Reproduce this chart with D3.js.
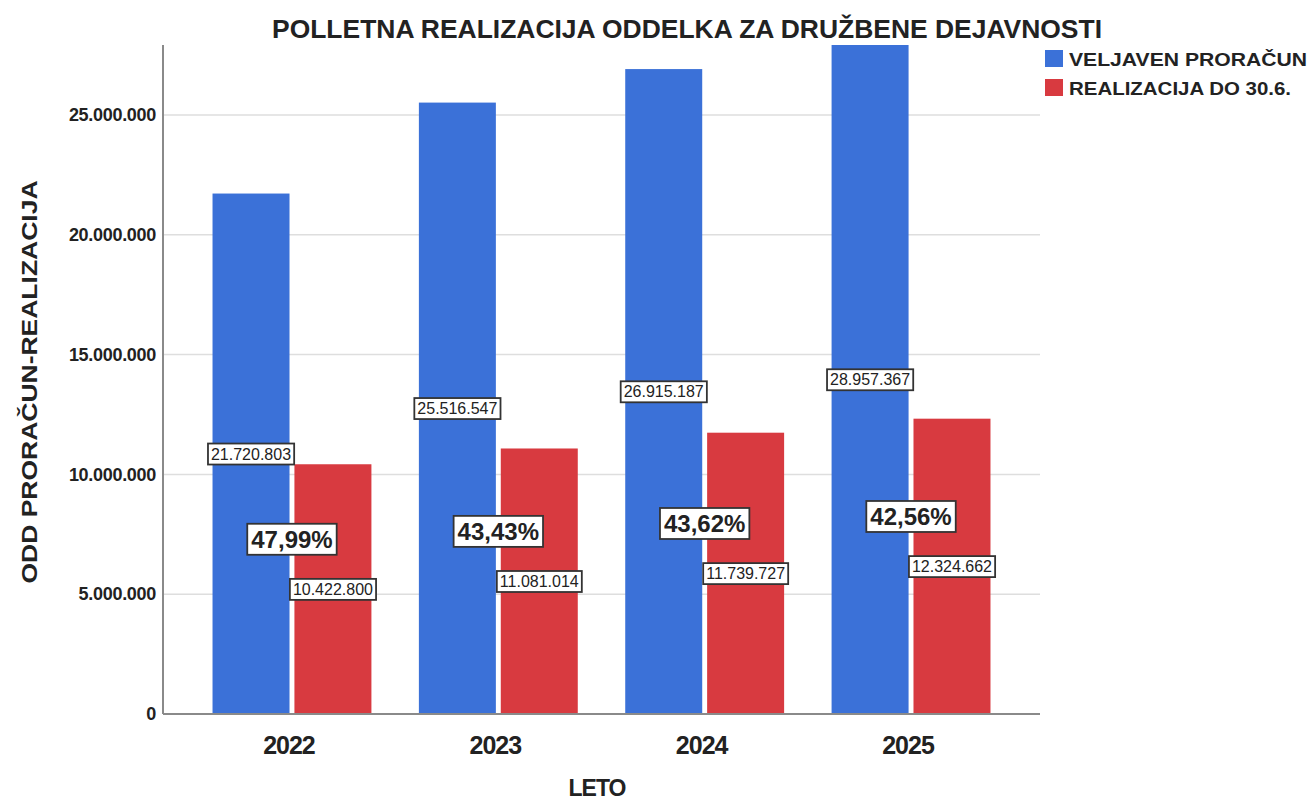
<!DOCTYPE html>
<html>
<head>
<meta charset="utf-8">
<script src="https://cdn.jsdelivr.net/npm/d3@7"></script>
<style>
  body { margin: 0; background: #fff; }
  text { font-family: "Liberation Sans", Arial, sans-serif; }
</style>
</head>
<body>
<svg width="1311" height="802"></svg>
<script>
// data
const years = ["2022", "2023", "2024", "2025"];
const budget = [21720803, 25516547, 26915187, 28957367];
const realized = [10422800, 11081014, 11739727, 12324662];
const percents = ["47,99%", "43,43%", "43,62%", "42,56%"];
const seriesNames = ["VELJAVEN PRORAČUN", "REALIZACIJA DO 30.6."];
const yTicks = [0, 5000000, 10000000, 15000000, 20000000, 25000000];

const colors = ["#3b71d8", "#d83a40"];

const svg = d3.select("svg");
const plotLeft = 163, plotRight = 1040, plotTop = 45, plotBottom = 714;

const fmt = v => d3.format(",")(v).replace(/,/g, ".");

const x = d3.scaleBand()
    .domain(years)
    .range([plotLeft, plotRight])
    .paddingInner(0.23)
    .paddingOuter(0.24);

const xSub = d3.scaleBand()
    .domain([0, 1])
    .range([0, x.bandwidth()])
    .paddingInner(0.06);

const y = d3.scaleLinear()
    .domain([0, 27920000])
    .range([plotBottom, plotTop]);

// gridlines
svg.append("g")
  .selectAll("line")
  .data(yTicks.filter(d => d > 0))
  .join("line")
    .attr("x1", plotLeft).attr("x2", plotRight)
    .attr("y1", d => y(d)).attr("y2", d => y(d))
    .style("stroke", "#dedede")
    .style("stroke-width", 1.5);

// clip for bars
svg.append("clipPath").attr("id", "plot")
  .append("rect")
    .attr("x", plotLeft).attr("y", plotTop)
    .attr("width", plotRight - plotLeft).attr("height", plotBottom - plotTop);

const rows = years.map((yr, i) => ({yr, b: budget[i], r: realized[i], p: percents[i]}));

const groups = svg.append("g").attr("clip-path", "url(#plot)")
  .selectAll("g")
  .data(rows)
  .join("g")
    .attr("transform", d => `translate(${x(d.yr)},0)`);

groups.append("rect")
    .attr("x", xSub(0))
    .attr("width", xSub.bandwidth())
    .attr("y", d => y(d.b))
    .attr("height", d => y(0) - y(d.b))
    .style("fill", colors[0]);

groups.append("rect")
    .attr("x", xSub(1))
    .attr("width", xSub.bandwidth())
    .attr("y", d => y(d.r))
    .attr("height", d => y(0) - y(d.r))
    .style("fill", colors[1]);

// axes lines
svg.append("line")
    .attr("x1", plotLeft).attr("x2", plotLeft)
    .attr("y1", plotTop).attr("y2", plotBottom)
    .style("stroke", "#8a8a8a").style("stroke-width", 2);
svg.append("line")
    .attr("x1", plotLeft).attr("x2", plotRight)
    .attr("y1", plotBottom).attr("y2", plotBottom)
    .style("stroke", "#8a8a8a").style("stroke-width", 2);

// y tick labels
svg.append("g")
  .selectAll("text")
  .data(yTicks)
  .join("text")
    .attr("x", 156)
    .attr("y", d => y(d))
    .attr("dy", "0.35em")
    .attr("text-anchor", "end")
    .style("font-size", "18px")
    .style("font-weight", "bold")
    .style("letter-spacing", "-0.3px")
    .style("fill", "#222")
    .text(d => fmt(d));

// x tick labels
svg.append("g")
  .selectAll("text")
  .data(years)
  .join("text")
    .attr("x", d => x(d) + x.bandwidth() / 2 - 3)
    .attr("y", 754)
    .attr("text-anchor", "middle")
    .style("font-size", "25px")
    .style("font-weight", "bold")
    .style("letter-spacing", "-1px")
    .style("fill", "#222")
    .text(d => d);

// label with box
function boxLabel(g, cx, cy, txt, size, bold) {
  const t = g.append("text")
      .attr("x", cx).attr("y", cy)
      .attr("dy", "0.36em")
      .attr("text-anchor", "middle")
      .style("font-size", size + "px")
      .style("font-weight", bold ? "bold" : "normal")
      .style("fill", "#222")
      .text(txt);
  const bb = t.node().getBBox();
  const padX = bold ? 4 : 3, padY = bold ? 2 : 2;
  g.insert("rect", () => t.node())
      .attr("x", bb.x - padX).attr("y", bb.y - padY)
      .attr("width", bb.width + 2 * padX).attr("height", bb.height + 2 * padY)
      .style("fill", "#fff")
      .style("stroke", "#333")
      .style("stroke-width", 1.8);
}

const labels = svg.append("g");
rows.forEach(d => {
  const bx = x(d.yr) + xSub(0) + xSub.bandwidth() / 2;
  const rx = x(d.yr) + xSub(1) + xSub.bandwidth() / 2;
  const by = (y(0) + Math.max(y(d.b), plotTop)) / 2;
  const ry = y(d.r / 2);
  boxLabel(labels, bx, by, fmt(d.b), 16, false);
  boxLabel(labels, rx, ry, fmt(d.r), 16, false);
  boxLabel(labels, x(d.yr) + x.bandwidth() / 2, ry - 50, d.p, 24, true);
});

// title
svg.append("text")
    .attr("x", 687).attr("y", 38)
    .attr("text-anchor", "middle")
    .attr("textLength", 830)
    .attr("lengthAdjust", "spacingAndGlyphs")
    .style("font-size", "25px")
    .style("font-weight", "bold")
    .style("fill", "#222")
    .text("POLLETNA REALIZACIJA ODDELKA ZA DRUŽBENE DEJAVNOSTI");

// axis titles
svg.append("text")
    .attr("transform", "translate(37,382) rotate(-90)")
    .attr("text-anchor", "middle")
    .attr("textLength", 403)
    .attr("lengthAdjust", "spacingAndGlyphs")
    .style("font-size", "22px")
    .style("font-weight", "bold")
    .style("fill", "#222")
    .text("ODD PRORAČUN-REALIZACIJA");

svg.append("text")
    .attr("x", 597).attr("y", 796)
    .attr("text-anchor", "middle")
    .style("font-size", "23px")
    .style("font-weight", "bold")
    .style("letter-spacing", "-1px")
    .style("fill", "#222")
    .text("LETO");

// legend
const legend = svg.append("g")
  .selectAll("g")
  .data(seriesNames)
  .join("g")
    .attr("transform", (d, i) => `translate(1045,${50 + i * 29})`);
legend.append("rect")
    .attr("width", 18).attr("height", 17)
    .style("fill", (d, i) => colors[i]);
legend.append("text")
    .attr("x", 24).attr("y", 9)
    .attr("dy", "0.36em")
    .attr("textLength", (d, i) => i === 0 ? 238 : 222)
    .attr("lengthAdjust", "spacingAndGlyphs")
    .style("font-size", "19px")
    .style("font-weight", "bold")
    .style("fill", "#222")
    .text(d => d);
</script>
</body>
</html>
